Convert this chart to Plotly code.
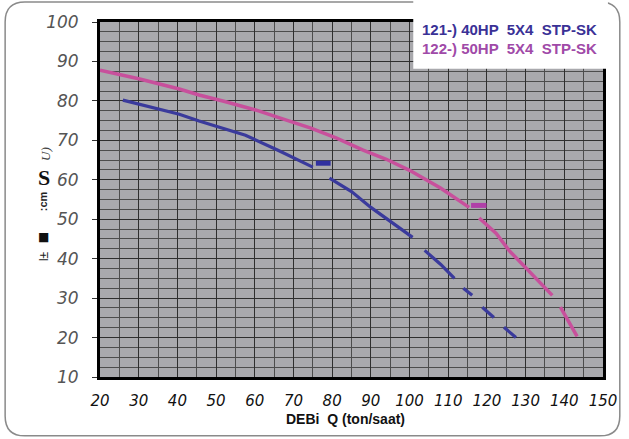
import plotly.graph_objects as go

# pompa egrileri (debi Q ton/saat, basma m) - taramadaki kopukluklar korunuyor
q_121 = [[25.9, 33.0, 40.5, 45.6, 50.0, 57.6, 66.0, 75.0],
         [79.3, 85.0, 90.0, 95.0, 100.8],
         [103.9, 108.0, 111.6],
         [113.9, 116.2],
         [118.8, 121.8],
         [124.4, 127.5]]
h_121 = [[80.2, 78.4, 76.6, 74.9, 73.6, 71.3, 67.5, 63.2],
         [60.4, 57.0, 53.0, 49.4, 45.4],
         [42.1, 38.6, 35.0],
         [32.5, 30.7],
         [27.7, 25.1],
         [22.6, 20.0]]

q_122 = [[20.0, 30.0, 40.5, 45.6, 52.0, 60.2, 67.0, 74.5, 81.0, 88.0, 94.0, 100.0, 108.0, 115.4],
         [118.0, 122.4, 125.7, 130.0, 134.0, 136.9],
         [139.0, 141.2, 143.3]]
h_122 = [[87.8, 85.6, 83.0, 81.5, 79.9, 77.7, 75.5, 73.1, 70.6, 67.5, 65.2, 62.4, 57.9, 53.0],
         [50.3, 46.4, 42.1, 37.8, 33.6, 30.7],
         [27.7, 24.0, 20.3]]

# egri uzerindeki kucuk isaretler
mark_121_q = [75.8, 79.6]
mark_121_h = [64.2, 64.2]
mark_122_q = [115.9, 119.9]
mark_122_h = [53.5, 53.5]

legend_names = ["121-) 40HP  5X4  STP-SK", "122-) 50HP  5X4  STP-SK"]
x_ticks = list(range(20, 151, 10))
y_ticks = list(range(10, 101, 10))

BLUE = "#3a3a9c"
PINK = "#c8509c"


def join(segs):
    out = []
    for s in segs:
        out += list(s) + [None]
    return out[:-1]


W, H = 629, 439
L, R, T, B = 100, 20, 21, 62
pw, ph = W - L - R, H - T - B


def px(x):
    return (x - L) / pw


def py(y):
    return (H - B - y) / ph


fig = go.Figure()
fig.add_trace(go.Scatter(x=join(q_122), y=join(h_122), mode="lines",
                         line=dict(color=PINK, width=3.5), connectgaps=False))
fig.add_trace(go.Scatter(x=join(q_121), y=join(h_121), mode="lines",
                         line=dict(color=BLUE, width=3.2), connectgaps=False))
fig.add_trace(go.Scatter(x=mark_121_q, y=mark_121_h, mode="lines",
                         line=dict(color="#3030a0", width=5)))
fig.add_trace(go.Scatter(x=mark_122_q, y=mark_122_h, mode="lines",
                         line=dict(color="#b040a8", width=5)))

# dis cerceve (yuvarlak koseli)
x0, x1, y0, y1 = 4, 626, 1, 436
r = 20
path = (f"M {px(x0 + r)} {py(y0)} L {px(x1 - r)} {py(y0)} "
        f"Q {px(x1)} {py(y0)} {px(x1)} {py(y0 + r)} "
        f"L {px(x1)} {py(y1 - r)} Q {px(x1)} {py(y1)} {px(x1 - r)} {py(y1)} "
        f"L {px(x0 + r)} {py(y1)} Q {px(x0)} {py(y1)} {px(x0)} {py(y1 - r)} "
        f"L {px(x0)} {py(y0 + r)} Q {px(x0)} {py(y0)} {px(x0 + r)} {py(y0)} Z")

shapes = [
    dict(type="path", path=path, xref="paper", yref="paper",
         line=dict(color="#8a8a8a", width=1.5), layer="below"),
    # lejant kutusu
    dict(type="rect", xref="paper", yref="paper",
         x0=px(417), x1=px(614), y0=py(68), y1=py(0),
         fillcolor="white", line=dict(width=0), layer="above"),
]

annotations = [
    dict(x=px(424), y=py(29), xref="paper", yref="paper", text="<b>" + legend_names[0] + "</b>",
         showarrow=False, xanchor="left", yanchor="middle",
         font=dict(family="Liberation Sans, Arial", size=15, color="#3a3196")),
    dict(x=px(424), y=py(48), xref="paper", yref="paper", text="<b>" + legend_names[1] + "</b>",
         showarrow=False, xanchor="left", yanchor="middle",
         font=dict(family="Liberation Sans, Arial", size=15, color="#a04aa8")),
    dict(x=px(348), y=py(419), xref="paper", yref="paper", text="<b>DEBi  Q (ton/saat)</b>",
         showarrow=False, xanchor="center", yanchor="middle",
         font=dict(family="Liberation Sans, Arial", size=14, color="#111")),
    # bozuk taranmis eksen basligi
    dict(x=px(35), y=py(153), xref="paper", yref="paper", text="<i>U)</i>", textangle=-90,
         showarrow=False, font=dict(family="Liberation Serif", size=13, color="#444")),
    dict(x=px(35), y=py(177), xref="paper", yref="paper", text="<b>S</b>",
         showarrow=False, font=dict(family="Liberation Serif", size=22, color="#111")),
    dict(x=px(35), y=py(201), xref="paper", yref="paper", text="<b>:cm</b>", textangle=-90,
         showarrow=False, font=dict(family="Liberation Sans", size=11, color="#222")),
    dict(x=px(35), y=py(237), xref="paper", yref="paper", text="■",
         showarrow=False, font=dict(family="DejaVu Sans", size=12, color="#111")),
    dict(x=px(35), y=py(256), xref="paper", yref="paper", text="l±", textangle=-90,
         showarrow=False, font=dict(family="Liberation Sans", size=12, color="#222")),
]

fig.update_layout(
    width=W, height=H,
    margin=dict(l=L, r=R, t=T, b=B),
    paper_bgcolor="white",
    plot_bgcolor="#a9a9ad",
    showlegend=False,
    shapes=shapes,
    annotations=annotations,
    xaxis=dict(range=[20, 150], tickvals=x_ticks,
               ticktext=[f"<i>{v}</i>" for v in x_ticks], ticks="", showgrid=True,
               gridcolor="#2e2e2e", gridwidth=1,
               minor=dict(dtick=5, tick0=20, showgrid=True, gridcolor="#4c4c4c", gridwidth=1),
               showline=True, linecolor="black", linewidth=3, mirror=True,
               zeroline=False, ticklabelstandoff=8,
               tickfont=dict(family="DejaVu Sans, Liberation Sans", size=15, color="#111",
                             style="italic")),
    yaxis=dict(range=[10, 100], tickvals=y_ticks,
               ticktext=[f"<i>{v}</i>" for v in y_ticks], ticks="outside", ticklen=5,
               tickcolor="#333", showgrid=True, gridcolor="#2e2e2e", gridwidth=1,
               minor=dict(dtick=2.5, tick0=10, showgrid=True, gridcolor="#4c4c4c", gridwidth=1),
               showline=True, linecolor="black", linewidth=3, mirror=True,
               zeroline=False, ticklabelstandoff=10,
               tickfont=dict(family="DejaVu Sans, Liberation Sans", size=17, color="#555",
                             style="italic")),
)

fig.write_html("out.html", post_script="document.body.style.margin='0';",
               config={"displayModeBar": False})
